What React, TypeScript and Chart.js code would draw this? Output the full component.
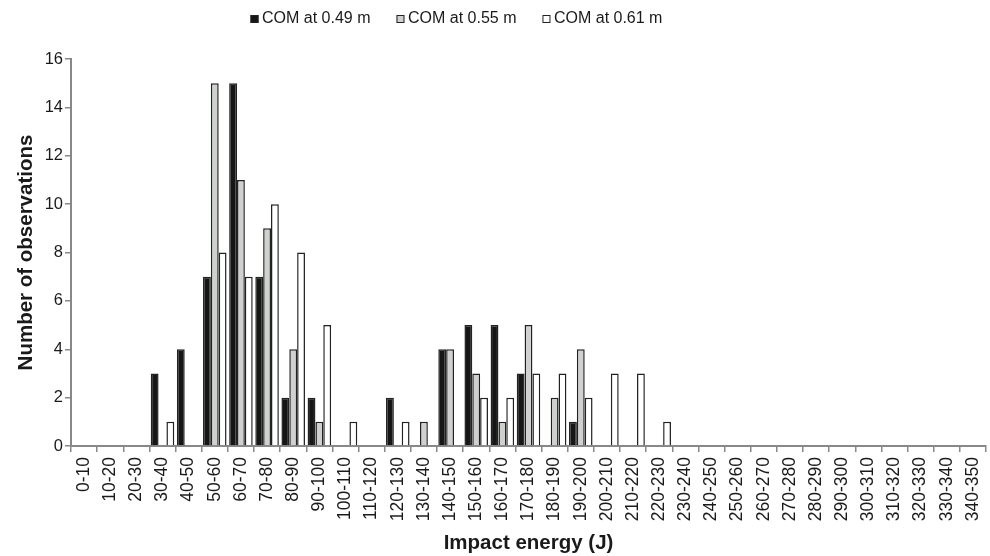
import React, { useEffect, useRef } from "react";
import { Chart, registerables } from "chart.js";

Chart.register(...registerables);

const categories = [
  "0-10", "10-20", "20-30", "30-40", "40-50", "50-60", "60-70", "70-80", "80-90", "90-100",
  "100-110", "110-120", "120-130", "130-140", "140-150", "150-160", "160-170", "170-180", "180-190", "190-200",
  "200-210", "210-220", "220-230", "230-240", "240-250", "250-260", "260-270", "270-280", "280-290", "290-300",
  "300-310", "310-320", "320-330", "330-340", "340-350",
];

const com049 = [0, 0, 0, 3, 4, 7, 15, 7, 2, 2, 0, 0, 2, 0, 4, 5, 5, 3, 0, 1, 0, 0, 0, 0, 0, 0, 0, 0, 0, 0, 0, 0, 0, 0, 0];
const com055 = [0, 0, 0, 0, 0, 15, 11, 9, 4, 1, 0, 0, 0, 1, 4, 3, 1, 5, 2, 4, 0, 0, 0, 0, 0, 0, 0, 0, 0, 0, 0, 0, 0, 0, 0];
const com061 = [0, 0, 0, 1, 0, 8, 7, 10, 8, 5, 1, 0, 1, 0, 0, 2, 2, 3, 3, 2, 3, 3, 1, 0, 0, 0, 0, 0, 0, 0, 0, 0, 0, 0, 0];

const seriesNames = ["COM at 0.49 m", "COM at 0.55 m", "COM at 0.61 m"];
const yTicks = [0, 2, 4, 6, 8, 10, 12, 14, 16];

const fills = ["#161616", "#cfd1cf", "#ffffff"];
const FONT = "'Liberation Sans', Arial, sans-serif";

const legendPlugin = {
  id: "customLegend",
  afterDraw(chart: any) {
    const ctx = chart.ctx;
    ctx.save();
    ctx.font = `16px ${FONT}`;
    ctx.textBaseline = "middle";
    ctx.textAlign = "left";
    let x = 250.5;
    const yMid = 19;
    chart.data.datasets.forEach((ds: any, i: number) => {
      ctx.fillStyle = fills[i];
      ctx.fillRect(x, yMid - 4, 8, 8);
      ctx.strokeStyle = "#222";
      ctx.lineWidth = 1;
      ctx.strokeRect(x + 0.5, yMid - 3.5, 7, 7);
      x += 11.5;
      ctx.fillStyle = "#1a1a1a";
      ctx.fillText(ds.label, x, yMid);
      x += ctx.measureText(ds.label).width + 26;
    });
    ctx.restore();
  },
};

export default function App() {
  const ref = useRef<HTMLCanvasElement | null>(null);
  useEffect(() => {
    if (!ref.current) return;
    const series = [com049, com055, com061];
    const chart = new Chart(ref.current, {
      type: "bar",
      data: {
        labels: categories,
        datasets: series.map((s, i) => ({
          label: seriesNames[i],
          data: s.map((v) => (v === 0 ? null : v)),
          backgroundColor: fills[i],
          borderColor: "#222",
          borderWidth: 1.5,
          borderSkipped: "start",
          categoryPercentage: 0.9,
          barPercentage: 1,
        })),
      },
      options: {
        animation: false,
        responsive: true,
        maintainAspectRatio: false,
        layout: { padding: { top: 59, right: 4, left: 0, bottom: 0 } },
        plugins: {
          legend: { display: false },
          tooltip: { enabled: false },
        },
        scales: {
          x: {
            grid: {
              display: true,
              drawOnChartArea: false,
              drawTicks: true,
              tickLength: 6,
              color: "#888",
              lineWidth: 1.5,
              offset: true,
            },
            border: { display: true, color: "#888", width: 2 },
            ticks: {
              maxRotation: 90,
              minRotation: 90,
              autoSkip: false,
              padding: 5,
              color: "#1a1a1a",
              font: { family: FONT, size: 17.5 },
            },
            title: {
              display: true,
              text: "Impact energy (J)",
              color: "#1a1a1a",
              font: { family: FONT, size: 20.5, weight: "bold" },
              padding: { top: 0, bottom: 0 },
            },
            afterFit(scale: any) {
              scale.height = 110;
              scale.paddingLeft = 0;
              scale.paddingRight = 0;
            },
          },
          y: {
            min: 0,
            max: 16,
            afterBuildTicks(scale: any) {
              scale.ticks = yTicks.map((v) => ({ value: v }));
            },
            grid: {
              display: true,
              drawOnChartArea: false,
              drawTicks: true,
              tickLength: 6,
              color: "#888",
              lineWidth: 1.5,
            },
            border: { display: true, color: "#888", width: 2 },
            ticks: {
              padding: 2,
              color: "#1a1a1a",
              font: { family: FONT, size: 16.5 },
            },
            title: {
              display: true,
              text: "Number of observations",
              color: "#1a1a1a",
              font: { family: FONT, size: 20.5, weight: "bold" },
              padding: { top: 14, bottom: 0 },
            },
            afterFit(scale: any) {
              scale.width = 71;
              scale.paddingTop = 0;
              scale.paddingBottom = 0;
            },
          },
        },
      },
      plugins: [legendPlugin],
    });
    return () => chart.destroy();
  }, []);
  return (
    <div style={{ position: "fixed", left: 0, top: 0, width: 990, height: 556, background: "#fff" }}>
      <canvas ref={ref} />
    </div>
  );
}
